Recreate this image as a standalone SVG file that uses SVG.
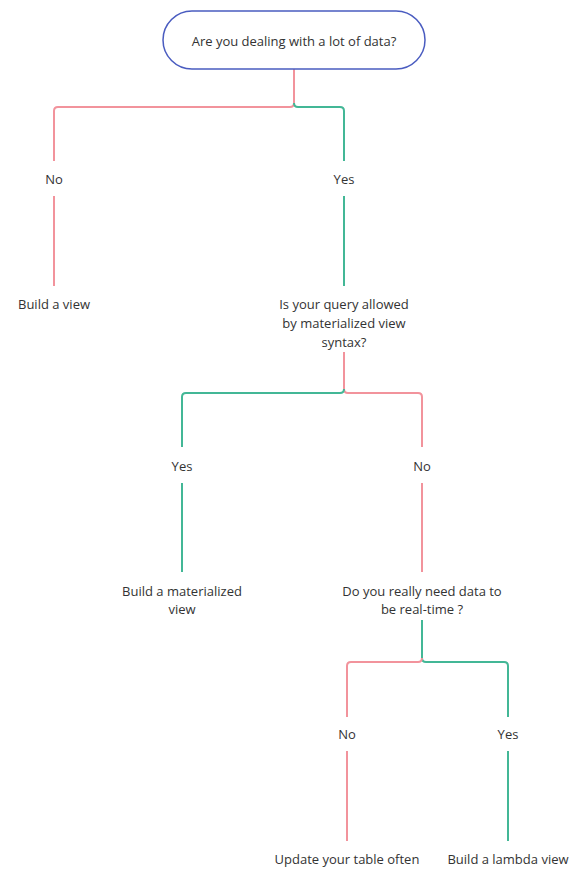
<svg xmlns="http://www.w3.org/2000/svg" width="586" height="874" viewBox="0 0 586 874">
<style>
text{font-family:"Open Sans","Noto Sans","Liberation Sans",sans-serif;font-size:13px;fill:#333;text-anchor:middle}
.r{fill:none;stroke:#f2939c;stroke-width:2}
.g{fill:none;stroke:#43b796;stroke-width:2}
</style>
<rect width="586" height="874" fill="#fff"/>
<g id="connectors">
<path class="r" d="M294,69 V103 Q294,107 290,107 H58 Q54,107 54,111 V161"/>
<path class="g" d="M294,103 Q294,107 298,107 H340 Q344,107 344,111 V161"/>
<path class="r" d="M54,196 V286"/>
<path class="g" d="M344,196 V286"/>
<path class="r" d="M344,352 V389 Q344,393 348,393 H418 Q422,393 422,397 V447"/>
<path class="g" d="M344,389 Q344,393 340,393 H186 Q182,393 182,397 V447"/>
<path class="g" d="M182,483 V572"/>
<path class="r" d="M422,483 V572"/>
<path class="g" d="M422,620 V658 Q422,662 426,662 H504 Q508,662 508,666 V717"/>
<path class="r" d="M422,658 Q422,662 418,662 H351 Q347,662 347,666 V717"/>
<path class="r" d="M347,751 V841"/>
<path class="g" d="M508,751 V841"/>
</g>
<g id="start">
<rect x="163" y="11" width="262" height="58" rx="29" fill="#fff" stroke="#4a5cc0" stroke-width="1.5"/>
<text x="294" y="46">Are you dealing with a lot of data?</text>
</g>
<g id="lbl-no1"><text x="54" y="184">No</text></g>
<g id="lbl-yes1"><text x="344" y="184">Yes</text></g>
<g id="build-view"><text x="54" y="309">Build a view</text></g>
<g id="query"><text x="344" y="309">Is your query allowed</text><text x="344" y="328">by materialized view</text><text x="344" y="347">syntax?</text></g>
<g id="lbl-yes2"><text x="182" y="471">Yes</text></g>
<g id="lbl-no2"><text x="422" y="471">No</text></g>
<g id="build-mat"><text x="182" y="596">Build a materialized</text><text x="182" y="614">view</text></g>
<g id="realtime"><text x="422" y="596">Do you really need data to</text><text x="422" y="614">be real-time ?</text></g>
<g id="lbl-no3"><text x="347" y="739">No</text></g>
<g id="lbl-yes3"><text x="508" y="739">Yes</text></g>
<g id="update"><text x="347" y="864">Update your table often</text></g>
<g id="lambda"><text x="508" y="864">Build a lambda view</text></g>
</svg>
